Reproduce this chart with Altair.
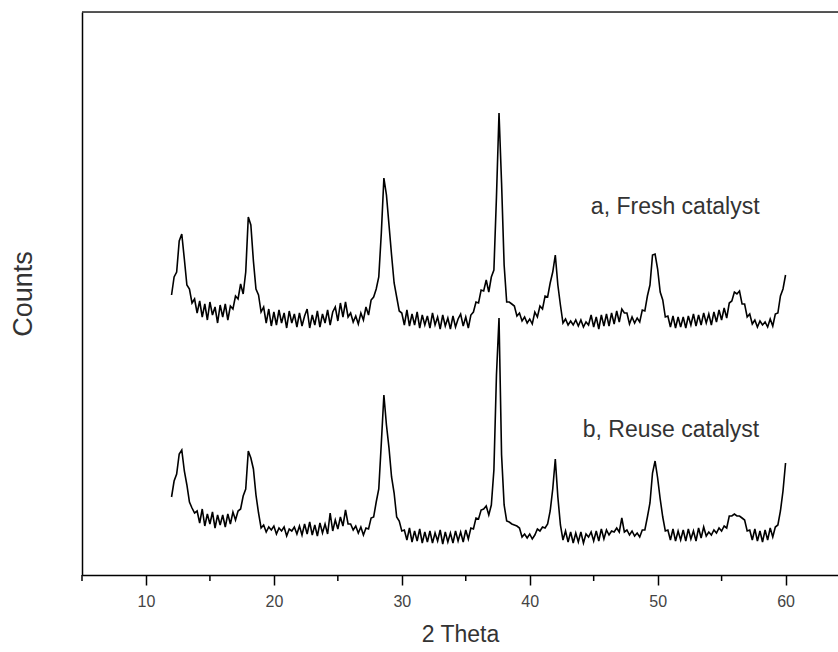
import altair as alt
import numpy as np
import pandas as pd

# 2-theta scan grid (12 to 60 deg, 0.2 deg step)
two_theta = np.round(np.arange(0, 241) * 0.2 + 12.0, 1)

fresh_counts = [
    280, 298, 303, 334, 341, 316, 290, 286, 272, 276,
    262, 274, 258, 271, 255, 273, 260, 268, 252, 270,
    258, 271, 255, 269, 266, 279, 276, 291, 281, 303,
    358, 350, 314, 286, 280, 263, 268, 252, 266, 249,
    263, 250, 265, 252, 262, 247, 264, 252, 261, 248,
    262, 249, 259, 266, 247, 260, 250, 264, 248, 261,
    252, 265, 250, 263, 268, 254, 272, 258, 273, 258,
    262, 253, 259, 251, 262, 255, 268, 260, 275, 278,
    286, 298, 342, 397, 380, 350, 320, 292, 278, 264,
    262, 250, 265, 249, 261, 250, 263, 247, 260, 250,
    259, 247, 262, 250, 258, 246, 260, 249, 257, 246,
    259, 248, 256, 261, 249, 258, 247, 260, 263, 273,
    272, 285, 284, 295, 283, 298, 305, 378, 462, 392,
    310, 273, 273, 271, 269, 259, 262, 254, 258, 252,
    256, 251, 263, 258, 269, 266, 279, 278, 292, 303,
    320, 290, 270, 252, 256, 250, 254, 250, 255, 249,
    255, 248, 253, 250, 260, 248, 258, 246, 260, 249,
    261, 249, 262, 251, 264, 253, 266, 262, 262, 251,
    258, 252, 257, 253, 265, 264, 279, 290, 320, 321,
    306, 283, 275, 258, 259, 248, 259, 247, 258, 248,
    258, 247, 259, 250, 261, 249, 260, 250, 262, 252,
    261, 250, 263, 253, 265, 255, 267, 257, 272, 274,
    283, 281, 284, 271, 271, 258, 261, 251, 255, 248,
    254, 250, 253, 248, 256, 249, 261, 262, 279, 286,
    300,
]

reuse_counts = [
    78, 94, 101, 121, 125, 104, 90, 73, 67, 62,
    64, 52, 66, 49, 61, 51, 63, 47, 60, 50,
    60, 48, 61, 51, 63, 55, 64, 66, 79, 86,
    124, 117, 106, 80, 62, 47, 50, 43, 48, 45,
    49, 41, 47, 44, 48, 39, 46, 44, 48, 41,
    49, 40, 51, 41, 53, 40, 50, 39, 52, 42,
    51, 41, 62, 44, 55, 46, 58, 49, 65, 51,
    51, 45, 49, 42, 48, 40, 47, 46, 57, 58,
    73, 86, 132, 180, 150, 127, 98, 82, 58, 54,
    44, 45, 35, 47, 33, 44, 34, 46, 32, 43,
    33, 44, 32, 42, 34, 45, 31, 43, 33, 42,
    32, 44, 34, 43, 33, 45, 36, 47, 46, 57,
    56, 65, 66, 69, 60, 70, 105, 200, 257, 120,
    70, 54, 53, 51, 50, 49, 47, 38, 41, 37,
    41, 36, 40, 46, 44, 48, 47, 51, 64, 86,
    116, 78, 50, 35, 44, 33, 43, 32, 42, 33,
    43, 32, 41, 38, 43, 34, 44, 34, 46, 36,
    45, 40, 44, 43, 47, 43, 57, 43, 45, 40,
    44, 39, 42, 38, 45, 45, 58, 72, 102, 114,
    97, 76, 58, 44, 45, 35, 46, 34, 44, 35,
    45, 34, 46, 36, 44, 34, 47, 37, 48, 39,
    43, 40, 45, 42, 47, 44, 49, 47, 59, 59,
    61, 59, 59, 57, 55, 44, 45, 35, 46, 34,
    44, 33, 45, 35, 47, 38, 48, 50, 64, 84,
    112,
]

series_labels = ["a, Fresh catalyst", "b, Reuse catalyst"]
label_x = [44.78, 44.15]
label_y = [368, 145]

major_ticks = [10, 20, 30, 40, 50, 60]
minor_ticks = [5, 15, 25, 35, 45, 55]

X_DOMAIN = [5, 64.1]
Y_DOMAIN = [0, 563]
W, H = 756, 563
FONT = "Liberation Sans"
TXT = "#333333"

df = pd.concat([
    pd.DataFrame({"theta": two_theta, "counts": fresh_counts, "sample": series_labels[0]}),
    pd.DataFrame({"theta": two_theta, "counts": reuse_counts, "sample": series_labels[1]}),
])

x_scale = alt.Scale(domain=X_DOMAIN, nice=False, zero=False)
y_scale = alt.Scale(domain=Y_DOMAIN, nice=False, zero=False)

lines = alt.Chart(df).mark_line(color="black", strokeWidth=1.6).encode(
    x=alt.X("theta:Q", scale=x_scale,
            axis=alt.Axis(title="2 Theta", values=major_ticks, format="d",
                          grid=False, domainColor="black", domainWidth=1.5,
                          tickColor="black", tickWidth=1.5, tickSize=10,
                          labelFont=FONT, labelFontSize=16, labelColor="#444444",
                          labelPadding=8,
                          titleFont=FONT, titleFontSize=23, titleFontWeight="normal",
                          titleColor=TXT, titlePadding=14)),
    y=alt.Y("counts:Q", scale=y_scale,
            axis=alt.Axis(title="Counts", labels=False, ticks=False, grid=False,
                          domainColor="black", domainWidth=1.5,
                          titleFont=FONT, titleFontSize=27, titleFontWeight="normal",
                          titleColor=TXT, titlePadding=45)),
    detail="sample:N",
)

minor_df = pd.DataFrame({"theta": minor_ticks})
minor = alt.Chart(minor_df).mark_rule(color="black", strokeWidth=1.5).encode(
    x=alt.X("theta:Q", scale=x_scale),
    y=alt.value(H),
    y2=alt.value(H + 6),
)

top_border = alt.Chart(pd.DataFrame({"v": [0]})).mark_rule(color="#222222", strokeWidth=1.5).encode(
    x=alt.value(0), x2=alt.value(W), y=alt.value(0)
)

label_df = pd.DataFrame({"theta": label_x, "counts": label_y, "text": series_labels})
labels = alt.Chart(label_df).mark_text(
    align="left", baseline="middle", font=FONT, fontSize=23, color=TXT
).encode(
    x=alt.X("theta:Q", scale=x_scale),
    y=alt.Y("counts:Q", scale=y_scale),
    text="text:N",
)

chart = alt.layer(lines, minor, top_border, labels).properties(
    width=W, height=H,
    autosize=alt.AutoSizeParams(type="none"),
    padding={"left": 82, "top": 12, "right": 0, "bottom": 77},
).configure_view(stroke=None).configure(background="white")

chart.save("out.html", embed_options={"renderer": "svg", "actions": False})
